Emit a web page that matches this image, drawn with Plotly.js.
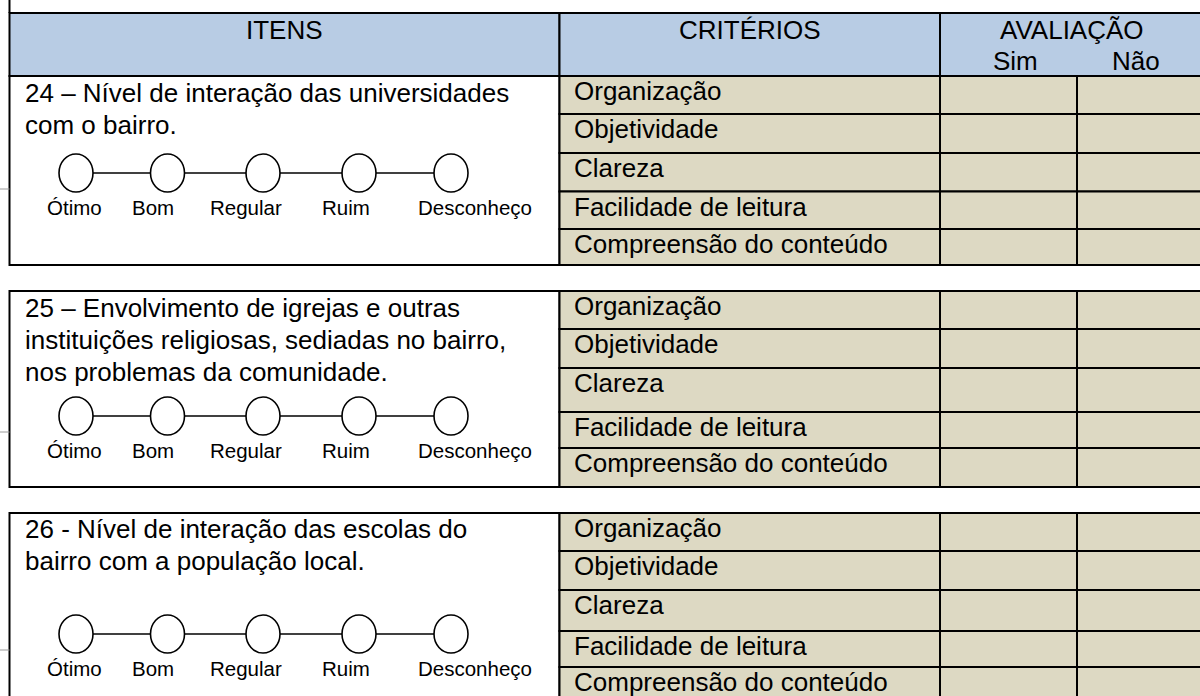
<!DOCTYPE html>
<html><head><meta charset="utf-8">
<script src="https://cdn.plot.ly/plotly-3.0.1.min.js"></script>
<style>html,body{margin:0;padding:0;background:#fff;overflow:hidden}</style>
</head><body><div id="chart" style="width:1200px;height:696px"></div>
<script>
// ---- content ----
const headers = ["ITENS", "CRITÉRIOS", "AVALIAÇÃO"];
const subHeaders = ["Sim", "Não"];
const criteria = ["Organização", "Objetividade", "Clareza", "Facilidade de leitura", "Compreensão do conteúdo"];
const scaleLabels = ["Ótimo", "Bom", "Regular", "Ruim", "Desconheço"];
const item24 = ["24 – Nível de interação das universidades", "com o bairro."];
const item25 = ["25 – Envolvimento de igrejas e outras", "instituições religiosas, sediadas no bairro,", "nos problemas da comunidade."];
const item26 = ["26 - Nível de interação das escolas do", "bairro com a população local."];
const items = [item24, item25, item26];

// ---- geometry / style ----
const FONT = "Liberation Sans, Arial, sans-serif";
const FS = 26, FS_LABEL = 20.5;
const X_LEFT = 9.5, X_CRIT = 559.5, X_AVAL = 940, X_NAO = 1077, X_RIGHT = 1216;
const HEADER = [13, 76];
const rowEdges = [[76, 114, 153, 191.5, 229, 265], [291, 329, 368, 412, 448, 487], [513, 551, 590, 631, 667, 705]];
const itemBaselines = [[102, 134.5], [317, 349, 381], [538.5, 570]];
const circleY = [173, 416, 634];
const labelBase = [215, 457.5, 675.5];
const circleX = [76, 167.5, 263, 359, 451];
const labelX = [74.5, 152.5, 246, 345.5, 474.5];
const RX = 17, RY = 19;
const BLUE = "#B8CCE4", TAN = "#DDD9C3", LINE = "#000000";

const shapes = [];
const ann = [];
function rect(x0, x1, y0, y1, fill) {
  shapes.push({type: "rect", xref: "x", yref: "y", x0, x1, y0, y1, fillcolor: fill, line: {color: LINE, width: 2}, layer: "above"});
}
function txt(text, x, baseline, size, anchor) {
  ann.push({text, x, y: baseline - 0.35 * size, xref: "x", yref: "y", showarrow: false,
    xanchor: anchor, yanchor: "middle", font: {family: FONT, size, color: "#000"}, borderpad: 0});
}

// header
rect(X_LEFT, X_CRIT, HEADER[0], HEADER[1], BLUE);
rect(X_CRIT, X_AVAL, HEADER[0], HEADER[1], BLUE);
rect(X_AVAL, X_RIGHT, HEADER[0], HEADER[1], BLUE);
shapes.push({type: "line", xref: "x", yref: "y", x0: X_LEFT, x1: X_LEFT, y0: -2, y1: HEADER[0], line: {color: LINE, width: 2}});
txt(headers[0], (X_LEFT + X_CRIT) / 2, 39, FS, "center");
txt(headers[1], (X_CRIT + X_AVAL) / 2, 39, FS, "center");
txt(headers[2], 1072, 39, FS, "center");
txt(subHeaders[0], 1015, 70, FS, "center");
txt(subHeaders[1], 1136, 70, FS, "center");

// sections
items.forEach((lines, s) => {
  const e = rowEdges[s];
  rect(X_LEFT, X_CRIT, e[0], e[5], "#FFFFFF");
  criteria.forEach((c, r) => {
    rect(X_CRIT, X_AVAL, e[r], e[r + 1], TAN);
    rect(X_AVAL, X_NAO, e[r], e[r + 1], TAN);
    rect(X_NAO, X_RIGHT, e[r], e[r + 1], TAN);
    txt(c, 573, e[r] + 24.5, FS, "left");
  });
  lines.forEach((l, i) => txt(l, 24, itemBaselines[s][i], FS, "left"));
  const cy = circleY[s];
  for (let i = 0; i < circleX.length - 1; i++) {
    shapes.push({type: "line", xref: "x", yref: "y", x0: circleX[i] + RX, x1: circleX[i + 1] - RX, y0: cy, y1: cy, line: {color: LINE, width: 1.4}, layer: "above"});
  }
  circleX.forEach(cx => shapes.push({type: "circle", xref: "x", yref: "y", x0: cx - RX, x1: cx + RX, y0: cy - RY, y1: cy + RY,
    fillcolor: "#FFFFFF", line: {color: LINE, width: 1.6}, layer: "above"}));
  scaleLabels.forEach((t, i) => txt(t, labelX[i], labelBase[s], FS_LABEL, "center"));
  // small stray marks left of the border
  shapes.push({type: "line", xref: "x", yref: "y", x0: 0, x1: X_LEFT, y0: cy + 16, y1: cy + 16, line: {color: "#9a9a9a", width: 1}});
});

const layout = {
  width: 1200, height: 696,
  margin: {l: 0, r: 0, t: 0, b: 0, pad: 0},
  paper_bgcolor: "#FFFFFF", plot_bgcolor: "#FFFFFF",
  showlegend: false,
  xaxis: {range: [0, 1200], visible: false, fixedrange: true},
  yaxis: {range: [696, 0], visible: false, fixedrange: true},
  shapes, annotations: ann
};
Plotly.newPlot("chart", [{type: "scatter", x: [], y: [], hoverinfo: "skip", showlegend: false}], layout, {staticPlot: true, displayModeBar: false});
</script></body></html>
